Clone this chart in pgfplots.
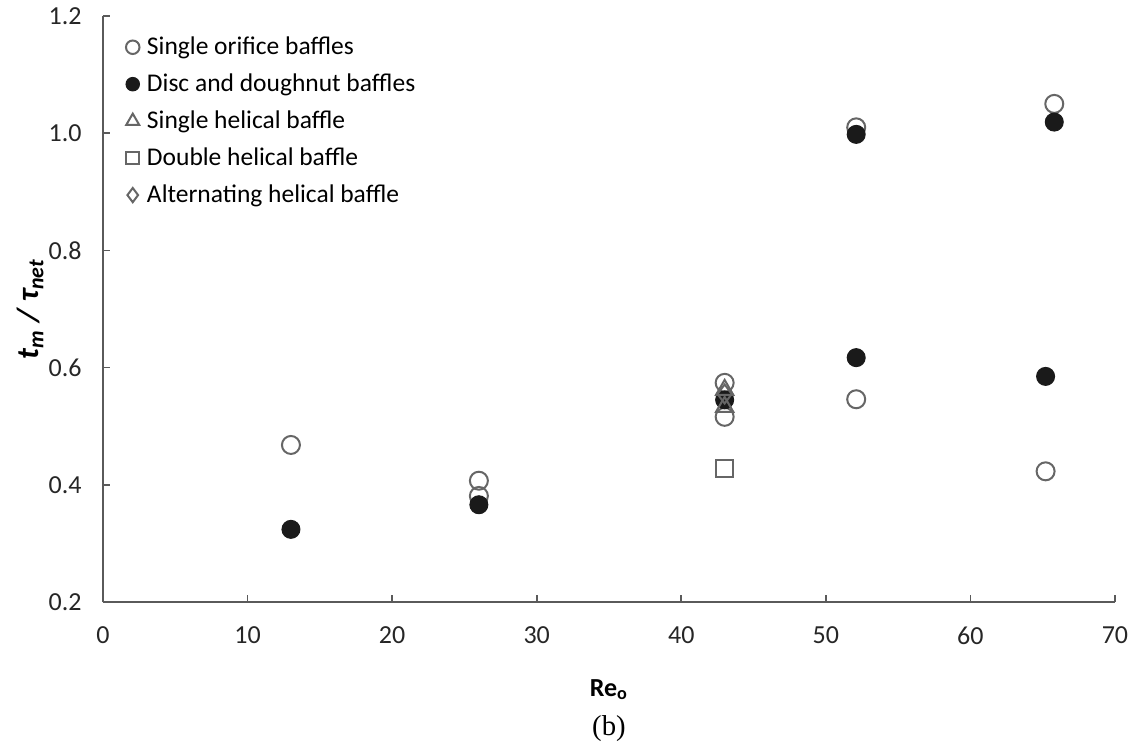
\documentclass[border=0pt]{standalone}
\usepackage{fontspec}
\setmainfont{Carlito}
\newfontfamily\capfont{Liberation Serif}
\usepackage{pgfplots}
\pgfplotsset{compat=1.18}

\definecolor{axisgray}{HTML}{5A5A5A}
\definecolor{markgray}{HTML}{666666}
\definecolor{markblack}{HTML}{1A1A1A}

\begin{document}
\begin{tikzpicture}
\path[use as bounding box] (-41.2pt,-57.6pt) rectangle (411.6pt,240.8pt);
\begin{axis}[
  at={(0pt,0pt)}, anchor=south west,
  scale only axis, width=404.8pt, height=234.4pt,
  xmin=0, xmax=70, ymin=0.2, ymax=1.2,
  xtick={0,10,...,70}, ytick={0.2,0.4,0.6,0.8,1.0,1.2},
  axis x line*=bottom, axis y line*=left,
  axis line style={axisgray, line width=0.8pt, -},
  tick align=inside, major tick length=3pt,
  tick style={axisgray, line width=0.7pt},
  /pgf/number format/assume math mode=true,
  ticklabel style={font=\fontsize{10.4}{12}\selectfont, text=black!85},
  yticklabel style={/pgf/number format/.cd, fixed, fixed zerofill, precision=1, /tikz/.cd, xshift=-5pt},
  xticklabel style={yshift=-6.5pt},
  xlabel={\textbf{Re\textsubscript{o}}},
  xlabel style={at={([yshift=-35pt]rel axis cs:0.5,0)}, anchor=center, font=\fontsize{10.4}{12}\selectfont},
  ylabel={\bfseries\itshape t\textsubscript{m} / τ\textsubscript{net}},
  ylabel style={at={([xshift=-29pt]rel axis cs:0,0.5)}, anchor=center, font=\fontsize{12.5}{14}\selectfont},
  clip=false,
  legend cell align=left,
  legend style={at={([xshift=9pt,yshift=-6pt]rel axis cs:0,1)}, anchor=north west,
    draw=none, fill=none, font=\fontsize{10.2}{12}\selectfont,
    row sep=2.2pt, inner sep=0pt,
    /tikz/every odd column/.style={column sep=1pt}},
  legend image code/.code={\draw[#1,/tikz/every mark/.append style={scale=0.75}] plot coordinates {(0pt,0pt)};},
]
% Single orifice baffles
\addplot[only marks, mark=o, mark size=3.6pt, draw=markgray, line width=0.8pt, mark options={fill=white}]
  coordinates {(13,0.468) (26,0.407) (26,0.381) (43,0.574) (43,0.516)
               (52.1,1.010) (52.1,0.546) (65.2,0.423) (65.8,1.050)};
\addlegendentry{Single orifice baffles}
% Disc and doughnut baffles
\addplot[only marks, mark=*, mark size=3.6pt, draw=markblack, fill=markblack]
  coordinates {(13,0.324) (26,0.366) (43,0.545) (52.1,0.998) (52.1,0.617)
               (65.2,0.585) (65.8,1.019)};
\addlegendentry{Disc and doughnut baffles}
% Single helical baffle
\addplot[only marks, mark=triangle, mark size=4pt, draw=markgray, line width=0.8pt]
  coordinates {(43,0.562) (43,0.533)};
\addlegendentry{Single helical baffle}
% Double helical baffle
\addplot[only marks, mark=square, mark size=3.4pt, draw=markgray, line width=0.8pt]
  coordinates {(43,0.427)};
\addlegendentry{Double helical baffle}
% Alternating helical baffle
\addplot[only marks, mark=diamond, mark size=3.8pt, draw=markgray, line width=0.8pt]
  coordinates {(43,0.555)};
\addlegendentry{Alternating helical baffle}
\node[font=\capfont\fontsize{11.5}{13}\selectfont] at ([yshift=-50.5pt]rel axis cs:0.5,0) {(b)};
\end{axis}
\end{tikzpicture}
\end{document}
